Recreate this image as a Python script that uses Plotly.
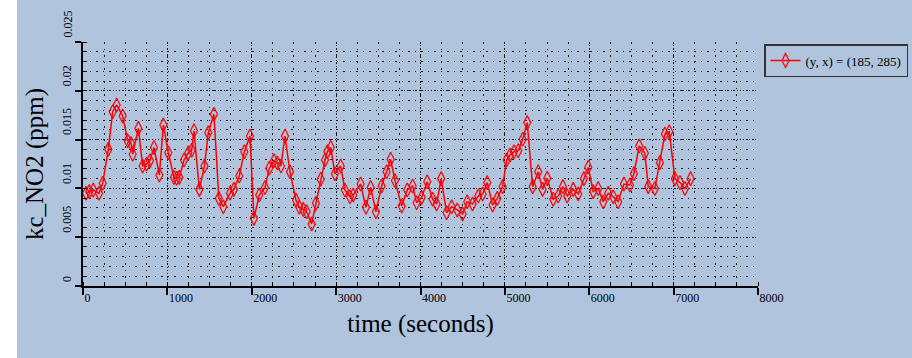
import plotly.graph_objects as go

# NO2 concentration at grid cell (y, x) = (185, 285)
time_s = [36, 75, 122, 190, 233, 300, 352, 399, 470, 529,
          569, 589, 656, 707, 755, 794, 841, 905, 952, 1011,
          1078, 1110, 1142, 1197, 1248, 1288, 1315, 1379, 1440, 1485,
          1552, 1610, 1663, 1742, 1789, 1852, 1912, 1979, 2026, 2089,
          2157, 2208, 2263, 2303, 2346, 2394, 2453, 2524, 2564, 2611,
          2651, 2710, 2761, 2817, 2868, 2896, 2936, 2986, 3054, 3104,
          3164, 3203, 3290, 3353, 3409, 3472, 3539, 3598, 3646, 3697,
          3777, 3843, 3907, 3954, 4013, 4080, 4144, 4191, 4245, 4309,
          4369, 4436, 4499, 4554, 4617, 4684, 4736, 4791, 4855, 4910,
          4973, 5021, 5060, 5107, 5158, 5211, 5265, 5329, 5395, 5447,
          5502, 5573, 5632, 5688, 5739, 5810, 5869, 5937, 5988, 6047,
          6106, 6166, 6225, 6284, 6343, 6411, 6482, 6529, 6592, 6659,
          6699, 6778, 6837, 6897, 6948, 7015, 7075, 7134, 7201]

no2_ppm = [0.00950, 0.00967, 0.00984, 0.00950, 0.01052, 0.01400, 0.01786, 0.01855, 0.01742, 0.01489,
           0.01460, 0.01350, 0.01615, 0.01230, 0.01250, 0.01284, 0.01420, 0.01137, 0.01650, 0.01366,
           0.01113, 0.01103, 0.01113, 0.01290, 0.01366, 0.01390, 0.01590, 0.00990, 0.01230, 0.01570,
           0.01760, 0.00898, 0.00813, 0.00950, 0.00990, 0.01127, 0.01376, 0.01537, 0.00693, 0.00932,
           0.01010, 0.01206, 0.01284, 0.01260, 0.01230, 0.01537, 0.01170, 0.00880, 0.00806, 0.00785,
           0.00760, 0.00635, 0.00847, 0.01093, 0.01290, 0.01376, 0.01420, 0.01150, 0.01230, 0.00984,
           0.00915, 0.00932, 0.01045, 0.00806, 0.01010, 0.00760, 0.01025, 0.01170, 0.01298, 0.01080,
           0.00820, 0.00984, 0.01025, 0.00854, 0.00908, 0.01069, 0.00888, 0.00840, 0.01100, 0.00751,
           0.00813, 0.00779, 0.00738, 0.00864, 0.00840, 0.00922, 0.00943, 0.01059, 0.00830, 0.00898,
           0.01018, 0.01290, 0.01342, 0.01376, 0.01386, 0.01503, 0.01674, 0.01018, 0.01170, 0.00990,
           0.01103, 0.00888, 0.00922, 0.01018, 0.00922, 0.00990, 0.00943, 0.01100, 0.01216, 0.00967,
           0.01000, 0.00864, 0.00950, 0.00915, 0.00864, 0.01045, 0.01035, 0.01150, 0.01434, 0.01360,
           0.01018, 0.01000, 0.01264, 0.01557, 0.01580, 0.01100, 0.01060, 0.01000, 0.01100]

x_ticks = [0, 1000, 2000, 3000, 4000, 5000, 6000, 7000, 8000]
y_ticks = [0, 0.005, 0.01, 0.015, 0.02, 0.025]
y_tick_text = ["0", "0.005", "0.01", "0.015", "0.02", "0.025"]

series_name = "(y, x) = (185, 285)"

BG = "#B0C4DE"
SERIF = "Liberation Serif, Times New Roman, serif"
W, H = 912, 358
L, R, T, B = 83, 154, 42, 72
PW, PH = W - L - R, H - T - B

fig = go.Figure()
fig.add_trace(go.Scatter(
    x=time_s, y=no2_ppm, mode="lines+markers", name=series_name,
    line=dict(color="#FF0000", width=1.5),
    marker=dict(symbol="diamond-tall-open", size=10, color="#FF0000",
                line=dict(width=1.2, color="#FF0000")),
    showlegend=True,
))

grid_major = dict(showgrid=True, gridcolor="#1a1a1a", gridwidth=1.4, griddash="1px,2px")
minor_common = dict(showgrid=True, gridcolor="#1a1a1a", gridwidth=1.4, griddash="1.5px,5px",
                    ticks="inside", ticklen=4, tickcolor="black", tickwidth=1)

fig.update_xaxes(
    range=[0, 8000], tickvals=x_ticks, ticktext=[str(v) for v in x_ticks],
    showline=True, linecolor="black", linewidth=1.5,
    ticks="outside", ticklen=7, tickwidth=1.5, tickcolor="black",
    ticklabelposition="outside right",
    tickfont=dict(family=SERIF, size=12, color="black"),
    zeroline=False,
    minor=dict(dtick=250, **minor_common),
    title=dict(text="time (seconds)", font=dict(family=SERIF, size=25, color="black"), standoff=10),
    **grid_major,
)
fig.update_yaxes(
    range=[0, 0.025], tickvals=y_ticks, showticklabels=False,
    showline=True, linecolor="black", linewidth=1.5,
    ticks="outside", ticklen=6, tickwidth=1.5, tickcolor="black",
    zeroline=False,
    minor=dict(dtick=0.001, **minor_common),
    title=dict(text="kc_NO2 (ppm)", font=dict(family=SERIF, size=25, color="black"), standoff=25),
    **grid_major,
)

# rotated y tick labels sitting just above each tick
annotations = []
for val, txt in zip(y_ticks, y_tick_text):
    annotations.append(dict(
        x=(67 - L) / PW, xref="paper", y=val, yref="y", text=txt, textangle=-90,
        showarrow=False, xanchor="center", yanchor="bottom", yshift=2,
        font=dict(family=SERIF, size=12, color="black"),
    ))

# white page strips around the blue panel
shapes = [
    dict(type="rect", xref="paper", yref="paper", x0=-L / PW, x1=(17 - L) / PW,
         y0=-B / PH, y1=(H - T) / PH, fillcolor="white", line=dict(width=0), layer="below"),
    dict(type="rect", xref="paper", yref="paper", x0=-L / PW, x1=(W - L) / PW,
         y0=(H - T - 4) / PH, y1=(H - T) / PH, fillcolor="white", line=dict(width=0), layer="below"),
]

fig.update_layout(
    width=W, height=H,
    margin=dict(l=L, r=R, t=T, b=B, autoexpand=False),
    paper_bgcolor=BG, plot_bgcolor=BG,
    font=dict(family=SERIF, size=12, color="black"),
    legend=dict(x=(764 - L) / PW, y=(H - B - 44) / PH, xanchor="left", yanchor="top",
                bgcolor=BG, bordercolor="#333333", borderwidth=1.5,
                font=dict(family=SERIF, size=13, color="black"), itemwidth=30),
    annotations=annotations,
    shapes=shapes,
)

fig.write_html("out.html")
